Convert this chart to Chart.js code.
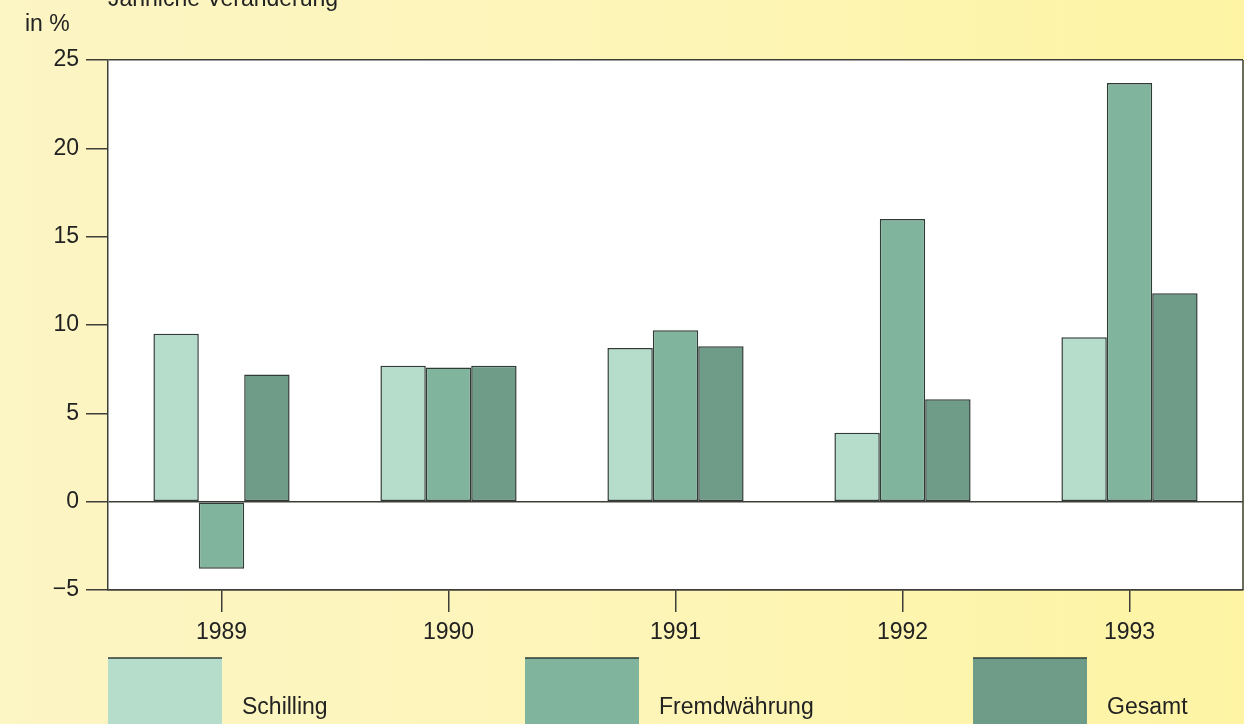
<!DOCTYPE html>
<html lang="de">
<head>
<meta charset="utf-8">
<title>Jährliche Veränderung</title>
<script src="https://cdn.jsdelivr.net/npm/chart.js@4.4.1/dist/chart.umd.min.js"></script>
<style>
  html, body { margin: 0; padding: 0; }
  body {
    width: 1244px; height: 724px; overflow: hidden;
    background: linear-gradient(90deg, #fcf5c4 0%, #fdf5b8 50%, #fef4a4 100%);
  }
  #wrap { position: relative; width: 1244px; height: 724px; }
</style>
</head>
<body>
<div id="wrap"><canvas id="chart" width="1244" height="724"></canvas></div>
<script>
// Years on the category axis
const years = ['1989', '1990', '1991', '1992', '1993'];

// Annual change in percent per currency group
const schilling     = [9.5, 7.7, 8.7, 3.9, 9.3];
const fremdwaehrung = [-3.8, 7.6, 9.7, 16.0, 23.7];
const gesamt        = [7.2, 7.7, 8.8, 5.8, 11.8];

// Series names and value-axis ticks
const seriesNames = ['Schilling', 'Fremdwährung', 'Gesamt'];
const yTicks = [-5, 0, 5, 10, 15, 20, 25];

const title = 'Jährliche Veränderung';
const unitLabel = 'in %';

const fills = ['#b6ddcc', '#80b49c', '#6e9c89'];
const edge = '#2f3b36';
const axisColor = '#3e3e38';
const textColor = '#222222';
const fontFamily = '"Liberation Sans", Arial, Helvetica, sans-serif';
const fontSize = 23;

// White plot background, outer frame, header texts and the legend row
const decorations = {
  id: 'decorations',
  beforeDraw(chart) {
    const { ctx, chartArea: a } = chart;
    ctx.save();
    ctx.fillStyle = '#ffffff';
    ctx.fillRect(a.left, a.top, a.right - a.left, a.bottom - a.top);
    ctx.restore();
  },
  afterDraw(chart) {
    const { ctx, chartArea: a } = chart;
    ctx.save();
    ctx.strokeStyle = axisColor;
    ctx.lineWidth = 1.5;
    ctx.beginPath();
    ctx.moveTo(a.right, a.top);
    ctx.lineTo(a.right, a.bottom);
    ctx.stroke();

    ctx.fillStyle = textColor;
    ctx.font = fontSize + 'px ' + fontFamily;
    ctx.textBaseline = 'alphabetic';
    ctx.textAlign = 'left';
    ctx.fillText(title, 108, 6);
    ctx.fillText(unitLabel, 25, 31);

    // legend: wide swatches with label to the right
    const legendX = [108, 525, 973];
    chart.data.datasets.forEach((ds, i) => {
      const x = legendX[i];
      ctx.fillStyle = ds.backgroundColor;
      ctx.fillRect(x, 658, 114, 80);
      ctx.strokeStyle = edge;
      ctx.lineWidth = 1.5;
      ctx.beginPath();
      ctx.moveTo(x, 658);
      ctx.lineTo(x + 114, 658);
      ctx.stroke();
      ctx.fillStyle = textColor;
      ctx.font = fontSize + 'px ' + fontFamily;
      ctx.fillText(ds.label, x + 134, 714);
    });
    ctx.restore();
  }
};

const seriesValues = [schilling, fremdwaehrung, gesamt];

new Chart(document.getElementById('chart'), {
  type: 'bar',
  data: {
    labels: years,
    datasets: seriesNames.map((name, i) => ({
      label: name,
      data: seriesValues[i],
      backgroundColor: fills[i],
      borderColor: edge,
      borderWidth: 1.5,
      borderSkipped: false,
      categoryPercentage: 0.6,
      barPercentage: 1.0
    }))
  },
  options: {
    responsive: false,
    animation: false,
    devicePixelRatio: 1,
    layout: { padding: { top: 60, right: 1, left: 0, bottom: 0 } },
    plugins: {
      legend: { display: false },
      tooltip: { enabled: false },
      title: { display: false }
    },
    scales: {
      x: {
        grid: {
          offset: false,
          drawOnChartArea: false,
          tickLength: 22,
          tickColor: axisColor,
          lineWidth: 1.5
        },
        border: { color: axisColor, width: 1.5 },
        ticks: {
          color: textColor,
          padding: 7,
          maxRotation: 0,
          font: { family: fontFamily, size: fontSize }
        },
        afterFit(scale) { scale.height = 134; }
      },
      y: {
        min: -5,
        max: 25,
        afterBuildTicks(scale) { scale.ticks = yTicks.map(v => ({ value: v })); },
        grid: {
          tickLength: 22,
          lineWidth: 1.5,
          tickColor: axisColor,
          color: (c) => (c.tick && (c.tick.value === 0 || c.tick.value === 25 || c.tick.value === -5)) ? axisColor : 'rgba(0,0,0,0)'
        },
        border: { color: axisColor, width: 1.5 },
        ticks: {
          color: textColor,
          padding: 7,
          font: { family: fontFamily, size: fontSize },
          callback: (v) => (v < 0 ? '\u2212' + Math.abs(v) : String(v))
        },
        afterFit(scale) { scale.width = 108; }
      }
    }
  },
  plugins: [decorations]
});
</script>
</body>
</html>
